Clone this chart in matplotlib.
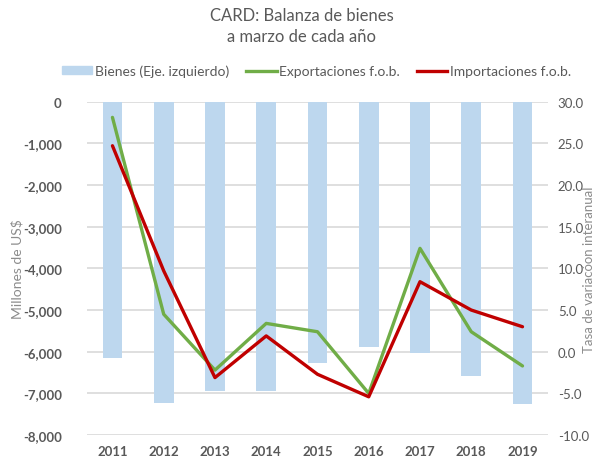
import matplotlib.pyplot as plt
from matplotlib.patches import Patch
from matplotlib.lines import Line2D
from matplotlib.ticker import FuncFormatter
import numpy as np

# datos
years = ["2011", "2012", "2013", "2014", "2015", "2016", "2017", "2018", "2019"]
bienes = [-6140, -7230, -6930, -6930, -6280, -5890, -6030, -6590, -7250]
exportaciones = [28.1, 4.5, -2.2, 3.4, 2.4, -5.0, 12.4, 2.4, -1.7]
importaciones = [24.7, 9.7, -3.1, 1.9, -2.7, -5.4, 8.4, 5.0, 3.0]

c_bar = "#BDD7EE"
c_exp = "#70AD47"
c_imp = "#C00000"
c_txt = "#595959"
c_grid = "#D9D9D9"

plt.rcParams['font.family'] = ['Lato', 'DejaVu Sans']

fig = plt.figure(figsize=(6.03, 4.64), dpi=100)
ax = fig.add_axes([0.144, 0.060, 0.765, 0.719])
ax2 = ax.twinx()

x = np.arange(len(years))
ax.bar(x, bienes, width=0.385, color=c_bar, zorder=2)
ax.set_ylim(-8000, 0)
ax.set_yticks(np.arange(-8000, 1, 1000))
ax.yaxis.set_major_formatter(FuncFormatter(lambda v, p: f"{int(v):,}"))
ax.grid(axis="y", color=c_grid, linewidth=1.2, zorder=0)
ax.set_axisbelow(True)
ax.set_xlim(-0.5, len(years) - 0.5)
ax.set_xticks(x)
ax.set_xticklabels(years, fontweight="bold")

ax2.plot(x, exportaciones, color=c_exp, linewidth=2.4, solid_capstyle="round")
ax2.plot(x, importaciones, color=c_imp, linewidth=2.4, solid_capstyle="round")
ax2.set_ylim(-10, 30)
ax2.set_yticks(np.arange(-10, 31, 5))
ax2.yaxis.set_major_formatter(FuncFormatter(lambda v, p: f"{v:.1f}"))

for a in (ax, ax2):
    for s in a.spines.values():
        s.set_visible(False)
    a.tick_params(length=0, colors=c_txt, labelsize=9.5)
ax.tick_params(axis="y", pad=18)
ax.tick_params(axis="x", pad=7)
ax2.tick_params(axis="y", pad=7)
for t in ax.get_yticklabels():
    t.set_fontweight("bold")

ax.set_ylabel("Millones de US$", color="#8C8C8C", fontsize=10)
ax.yaxis.set_label_coords(-0.138, 0.5)
ax2.set_ylabel("Tasa de variacóon interanual", color="#8C8C8C", fontsize=9.5)
ax2.yaxis.set_label_coords(1.075, 0.5)

fig.text(0.5, 0.943, "CARD: Balanza de bienes\na marzo de cada año", ha="center", va="center",
         fontsize=12, color=c_txt, linespacing=1.45)

handles = [Patch(color=c_bar), Line2D([], [], color=c_exp, linewidth=2.4),
           Line2D([], [], color=c_imp, linewidth=2.4)]
labels = ["Bienes (Eje. izquierdo)", "Exportaciones f.o.b.", "Importaciones f.o.b."]
leg = fig.legend(handles, labels, loc="center", bbox_to_anchor=(0.525, 0.845), ncol=3,
                 frameon=False, fontsize=10, handlelength=2.2, handletextpad=0.2,
                 columnspacing=1.2, handleheight=0.5)
for t in leg.get_texts():
    t.set_color(c_txt)

fig.savefig("out.png", dpi=100)
